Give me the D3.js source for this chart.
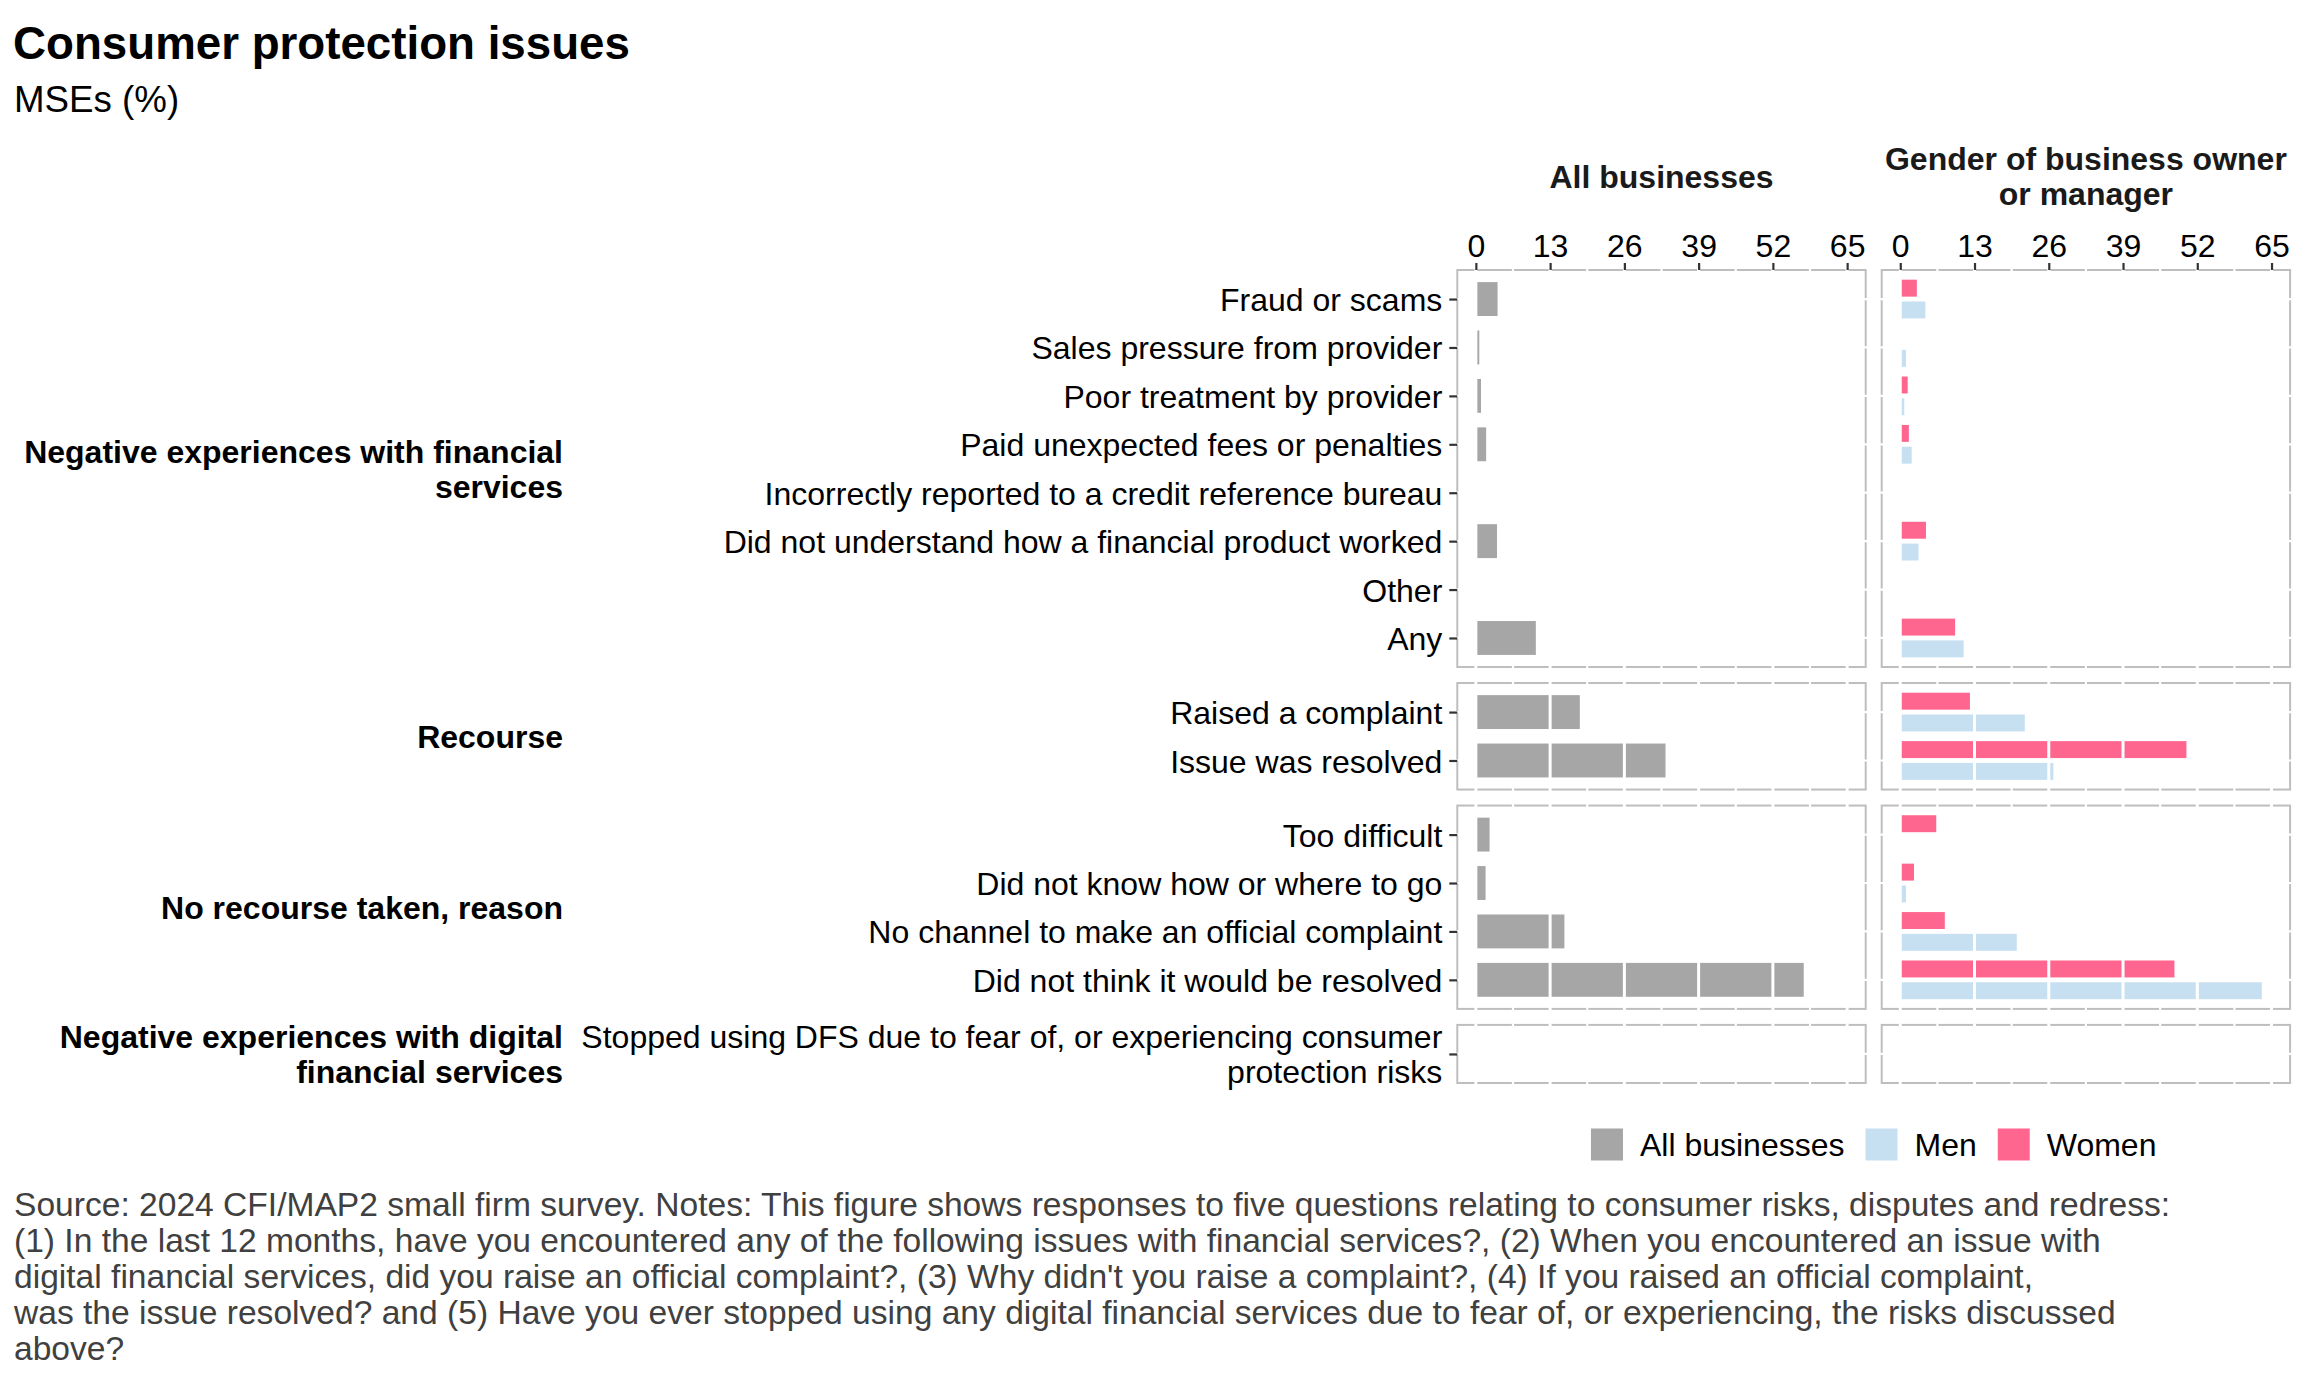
<!DOCTYPE html>
<html>
<head>
<meta charset="utf-8">
<script src="https://cdnjs.cloudflare.com/ajax/libs/d3/7.8.5/d3.min.js"></script>
<style>
  body { margin: 0; background: #fff; }
  svg { display: block; }
  text { font-family: "Liberation Sans", Arial, Helvetica, sans-serif; }
</style>
</head>
<body>
<svg id="chart" width="2304" height="1382"></svg>
<script>
var cAll = "#A6A6A6"
var cMen = "#C6E0F1"
var cWomen = "#FF668F"
var cBorder = "#BEBEBE"
var cText = "#000000"
var cCaption = "#404040"

// data
var groupNames = ["Negative experiences with financial services",
                  "Recourse",
                  "No recourse taken, reason",
                  "Negative experiences with digital financial services"]

var categories = ["Fraud or scams",
                  "Sales pressure from provider",
                  "Poor treatment by provider",
                  "Paid unexpected fees or penalties",
                  "Incorrectly reported to a credit reference bureau",
                  "Did not understand how a financial product worked",
                  "Other",
                  "Any",
                  "Raised a complaint",
                  "Issue was resolved",
                  "Too difficult",
                  "Did not know how or where to go",
                  "No channel to make an official complaint",
                  "Did not think it would be resolved",
                  "Stopped using DFS due to fear of, or experiencing consumer protection risks"]

var categoryGroup = [0, 0, 0, 0, 0, 0, 0, 0, 1, 1, 2, 2, 2, 2, 3]

var allValues   = [3.8, 0.6, 0.9, 1.8, null, 3.7, null, 10.5, 18.2, 33.2, 2.4, 1.7, 15.5, 57.4, null]
var menValues   = [4.4, 1.0, 0.7, 2.0, null, 3.2, null, 11.1, 21.8, 26.8, null, 1.0, 20.4, 63.3, null]
var womenValues = [2.9, null, 1.3, 1.5, null, 4.5, null, 9.6, 12.2, 50.1, 6.3, 2.4, 7.8, 48.0, null]

var xTicks = [0, 13, 26, 39, 52, 65]
var xMinor = [6.5, 19.5, 32.5, 45.5, 58.5]

var facetNames = ["All businesses", "Gender of business owner or manager"]
var legendNames = ["All businesses", "Men", "Women"]
var legendColors = [cAll, cMen, cWomen]

var titleText = "Consumer protection issues"
var subtitleText = "MSEs (%)"
var captionLines = [
  "Source: 2024 CFI/MAP2 small firm survey. Notes: This figure shows responses to five questions relating to consumer risks, disputes and redress:",
  "(1) In the last 12 months, have you encountered any of the following issues with financial services?, (2) When you encountered an issue with",
  "digital financial services, did you raise an official complaint?, (3) Why didn't you raise a complaint?, (4) If you raised an official complaint,",
  "was the issue resolved? and (5) Have you ever stopped using any digital financial services due to fear of, or experiencing, the risks discussed",
  "above?"
]

// layout
var panelTop = 270, panelBottom = 1083, panelGap = 16
var panelLeft = [1457.3, 1881.7], panelWidth = 408.4
var fontSize = 32, lineH = 35

var svg = d3.select("#chart")

// splits a text element into centred lines no wider than maxWidth
function wrapText(sel, maxWidth, lh) {
	sel.each(function() {
		var t = d3.select(this)
		var words = t.text().split(" ")
		var lines = [], line = []
		t.text(null).attr("dy", null)
		var probe = t.append("tspan")
		words.forEach(function(w) {
			line.push(w)
			probe.text(line.join(" "))
			if (probe.node().getComputedTextLength() > maxWidth && line.length > 1) {
				line.pop()
				lines.push(line.join(" "))
				line = [w]
			}
		})
		lines.push(line.join(" "))
		probe.remove()
		var x = t.attr("x") || 0
		var y0 = +(t.attr("y") || 0) - (lines.length - 1) * lh / 2
		lines.forEach(function(s, k) {
			t.append("tspan")
				.attr("x", x)
				.attr("y", y0 + k * lh)
				.attr("dy", "0.36em")
				.text(s)
		})
	})
}

var groupRows = groupNames.map(function(n, g) {
	return categories.filter(function(c, i) { return categoryGroup[i] === g })
})
var units = groupRows.map(function(r) { return r.length + 0.2 })
var unit = (panelBottom - panelTop - panelGap * (groupNames.length - 1)) / d3.sum(units)

var yStart = []
var acc = panelTop
units.forEach(function(u) { yStart.push(acc); acc += u * unit + panelGap })

var yScales = groupRows.map(function(rows, g) {
	return d3.scalePoint()
		.domain(rows)
		.range([yStart[g], yStart[g] + units[g] * unit])
		.padding(0.6)
})

var xScales = panelLeft.map(function(l) {
	return d3.scaleLinear().domain([-3.25, 68.25]).range([l, l + panelWidth])
})

// panels
groupRows.forEach(function(rows, g) {
	var y = yScales[g]
	var y0 = yStart[g], y1 = y0 + units[g] * unit
	var rowData = rows.map(function(c) {
		var i = categories.indexOf(c)
		return {name: c, all: allValues[i], men: menValues[i], women: womenValues[i]}
	})

	panelLeft.forEach(function(l, col) {
		var x = xScales[col]
		var cell = svg.append("g")

		cell.append("rect")
			.attr("x", l).attr("y", y0)
			.attr("width", panelWidth).attr("height", y1 - y0)
			.attr("fill", "white")
			.attr("stroke", cBorder)
			.attr("stroke-width", 2)

		cell.selectAll(".minor")
			.data(xMinor)
			.enter().append("line")
			.attr("x1", function(d) { return x(d) }).attr("x2", function(d) { return x(d) })
			.attr("y1", y0 - 1.5).attr("y2", y1 + 1.5)
			.attr("stroke", "white").attr("stroke-width", 2.2)

		cell.selectAll(".hgrid")
			.data(rows)
			.enter().append("line")
			.attr("x1", l - 1.5).attr("x2", l + panelWidth + 1.5)
			.attr("y1", function(d) { return y(d) }).attr("y2", function(d) { return y(d) })
			.attr("stroke", "white").attr("stroke-width", 2.2)

		if (col === 0) {
			cell.selectAll(".bar")
				.data(rowData.filter(function(d) { return d.all != null }))
				.enter().append("rect")
				.attr("x", x(0))
				.attr("y", function(d) { return y(d.name) - unit * 0.35 })
				.attr("width", function(d) { return x(d.all) - x(0) })
				.attr("height", unit * 0.7)
				.attr("fill", cAll)
		} else {
			cell.selectAll(".women")
				.data(rowData.filter(function(d) { return d.women != null }))
				.enter().append("rect")
				.attr("x", x(0))
				.attr("y", function(d) { return y(d.name) - unit * 0.225 - unit * 0.175 })
				.attr("width", function(d) { return x(d.women) - x(0) })
				.attr("height", unit * 0.35)
				.attr("fill", cWomen)
			cell.selectAll(".men")
				.data(rowData.filter(function(d) { return d.men != null }))
				.enter().append("rect")
				.attr("x", x(0))
				.attr("y", function(d) { return y(d.name) + unit * 0.225 - unit * 0.175 })
				.attr("width", function(d) { return x(d.men) - x(0) })
				.attr("height", unit * 0.35)
				.attr("fill", cMen)
		}

		// major grid lines sit on top of the bars
		cell.selectAll(".major")
			.data(xTicks)
			.enter().append("line")
			.attr("x1", function(d) { return x(d) }).attr("x2", function(d) { return x(d) })
			.attr("y1", y0 - 1.5).attr("y2", y1 + 1.5)
			.attr("stroke", "white").attr("stroke-width", 3)
	})

	// row labels
	var ax = svg.append("g")
		.attr("transform", "translate(" + panelLeft[0] + ",0)")
		.call(d3.axisLeft(y).tickSize(8).tickPadding(7))
	ax.select(".domain").remove()
	ax.selectAll(".tick line").attr("stroke", "#333333").attr("stroke-width", 2.2)
	ax.selectAll(".tick text")
		.attr("font-size", fontSize)
		.attr("font-family", null)
		.attr("fill", cText)
		.call(wrapText, 900, lineH)

	// group label
	svg.append("text")
		.attr("x", 563)
		.attr("y", (y0 + y1) / 2)
		.attr("text-anchor", "end")
		.attr("font-size", fontSize)
		.attr("font-weight", "bold")
		.attr("fill", cText)
		.text(groupNames[g])
		.call(wrapText, 550, lineH)
})

// top axes and facet strips
xScales.forEach(function(x, col) {
	var ax = svg.append("g")
		.attr("transform", "translate(0," + panelTop + ")")
		.call(d3.axisTop(x).tickValues(xTicks).tickSize(7).tickPadding(6))
	ax.select(".domain").remove()
	ax.selectAll(".tick line").attr("stroke", "#333333").attr("stroke-width", 2.2)
	ax.selectAll(".tick text")
		.attr("font-size", fontSize)
		.attr("font-family", null)
		.attr("fill", cText)

	svg.append("text")
		.attr("x", panelLeft[col] + panelWidth / 2)
		.attr("y", 176)
		.attr("text-anchor", "middle")
		.attr("font-size", fontSize)
		.attr("font-weight", "bold")
		.attr("fill", "#1a1a1a")
		.text(facetNames[col])
		.call(wrapText, 425, lineH)
})

// title
svg.append("text")
	.attr("x", 13).attr("y", 59)
	.attr("font-size", 45.7).attr("font-weight", "bold")
	.attr("fill", cText)
	.text(titleText)

svg.append("text")
	.attr("x", 14).attr("y", 112)
	.attr("font-size", 36.7)
	.attr("fill", cText)
	.text(subtitleText)

// legend
var legend = svg.append("g")
var keySize = 32, keyGap = 17, itemGap = 21
var lx = 0
legendNames.forEach(function(n, i) {
	legend.append("rect")
		.attr("x", lx).attr("y", -keySize / 2)
		.attr("width", keySize).attr("height", keySize)
		.attr("fill", legendColors[i])
	var t = legend.append("text")
		.attr("x", lx + keySize + keyGap)
		.attr("y", 0).attr("dy", "0.36em")
		.attr("font-size", fontSize)
		.attr("fill", cText)
		.text(n)
	lx += keySize + keyGap + t.node().getComputedTextLength() + itemGap
})
lx -= itemGap
var legendCenter = (panelLeft[0] + panelLeft[1] + panelWidth) / 2
legend.attr("transform", "translate(" + (legendCenter - lx / 2) + ",1144.5)")

// caption
svg.append("g")
	.selectAll("text")
	.data(captionLines)
	.enter().append("text")
	.attr("x", 14)
	.attr("y", function(d, i) { return 1216 + i * 36 })
	.attr("font-size", 33.6)
	.attr("fill", cCaption)
	.text(function(d) { return d })
</script>
</body>
</html>
